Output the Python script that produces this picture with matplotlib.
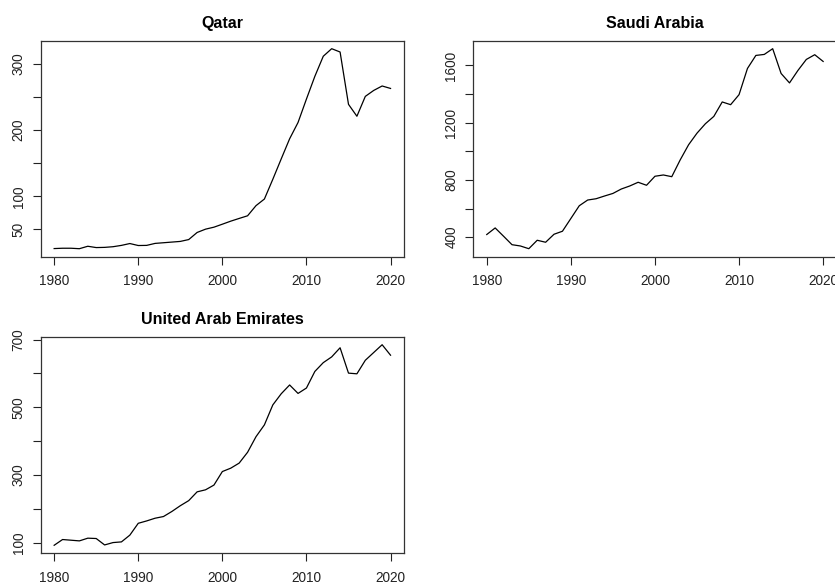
import numpy as np
import matplotlib
matplotlib.use('Agg')
import matplotlib.pyplot as plt

plt.rcParams['font.family'] = ['Liberation Sans', 'DejaVu Sans']

years = np.arange(1980, 2021)

qatar = [21.2, 21.7, 21.7, 21.0, 24.7, 22.7, 23.0, 24.0, 26.0, 28.8,
         25.8, 26.0, 29.0, 30.0, 31.0, 32.0, 34.8, 45.5, 50.5, 53.5,
         58.0, 62.6, 66.7, 70.7, 86.0, 96.0, 125.8, 156.6, 187.0, 211.6,
         247.0, 281.3, 311.6, 323.0, 318.0, 239.0, 221.0, 251.0, 260.0, 266.7,
         263.0]

saudi = [419, 465, 407, 348, 339, 320, 379, 365, 421, 442,
         531, 620, 660, 669, 688, 706, 737, 758, 784, 763,
         826, 835, 823, 940, 1046, 1127, 1193, 1244, 1345, 1326,
         1396, 1579, 1670, 1677, 1717, 1544, 1478, 1565, 1642, 1675,
         1628]

uae = [92, 109, 107, 105, 113, 112, 93, 100, 102, 122,
       157, 164, 172, 177, 192, 209, 224, 250, 256, 270,
       310, 320, 335, 367, 413, 448, 507, 540, 566, 541,
       557, 606, 632, 649, 676, 601, 599, 639, 662, 685,
       654]

x_ticks = [1980, 1990, 2000, 2010, 2020]

# (title, values, y ticks, labelled y ticks, [left, bottom, width, height] in px)
panels = [
    ('Qatar', qatar, [50, 100, 150, 200, 250, 300], [50, 100, 200, 300],
     [40.7, 256.7, 363.3, 216.0]),
    ('Saudi Arabia', saudi, [400, 600, 800, 1000, 1200, 1400, 1600],
     [400, 800, 1200, 1600], [473.3, 256.7, 363.3, 216.0]),
    ('United Arab Emirates', uae, [100, 200, 300, 400, 500, 600, 700],
     [100, 300, 500, 700], [40.7, 553.3, 363.3, 216.6]),
]

W, H = 835, 585
fig = plt.figure(figsize=(W / 100, H / 100), dpi=100)

for title, vals, yt, ylab, (l, b, w, h) in panels:
    ax = fig.add_axes([l / W, 1 - b / H, w / W, h / H])
    ax.plot(years, vals, color='black', lw=0.9)
    ax.margins(x=0.04, y=0.04)
    ax.set_xticks(x_ticks)
    ax.set_yticks(yt)
    ax.set_yticklabels([str(v) if v in ylab else '' for v in yt],
                       rotation=90, va='center')
    ax.tick_params(direction='out', length=5.8, width=0.8, labelsize=9.8,
                   colors='#222222')
    ax.tick_params(axis='x', pad=7)
    ax.tick_params(axis='y', pad=5)
    for s in ax.spines.values():
        s.set_linewidth(0.9)
        s.set_color('#333333')
    ax.set_title(title, fontsize=11.5, fontweight='bold', pad=9)

fig.savefig('out.png', dpi=100)
